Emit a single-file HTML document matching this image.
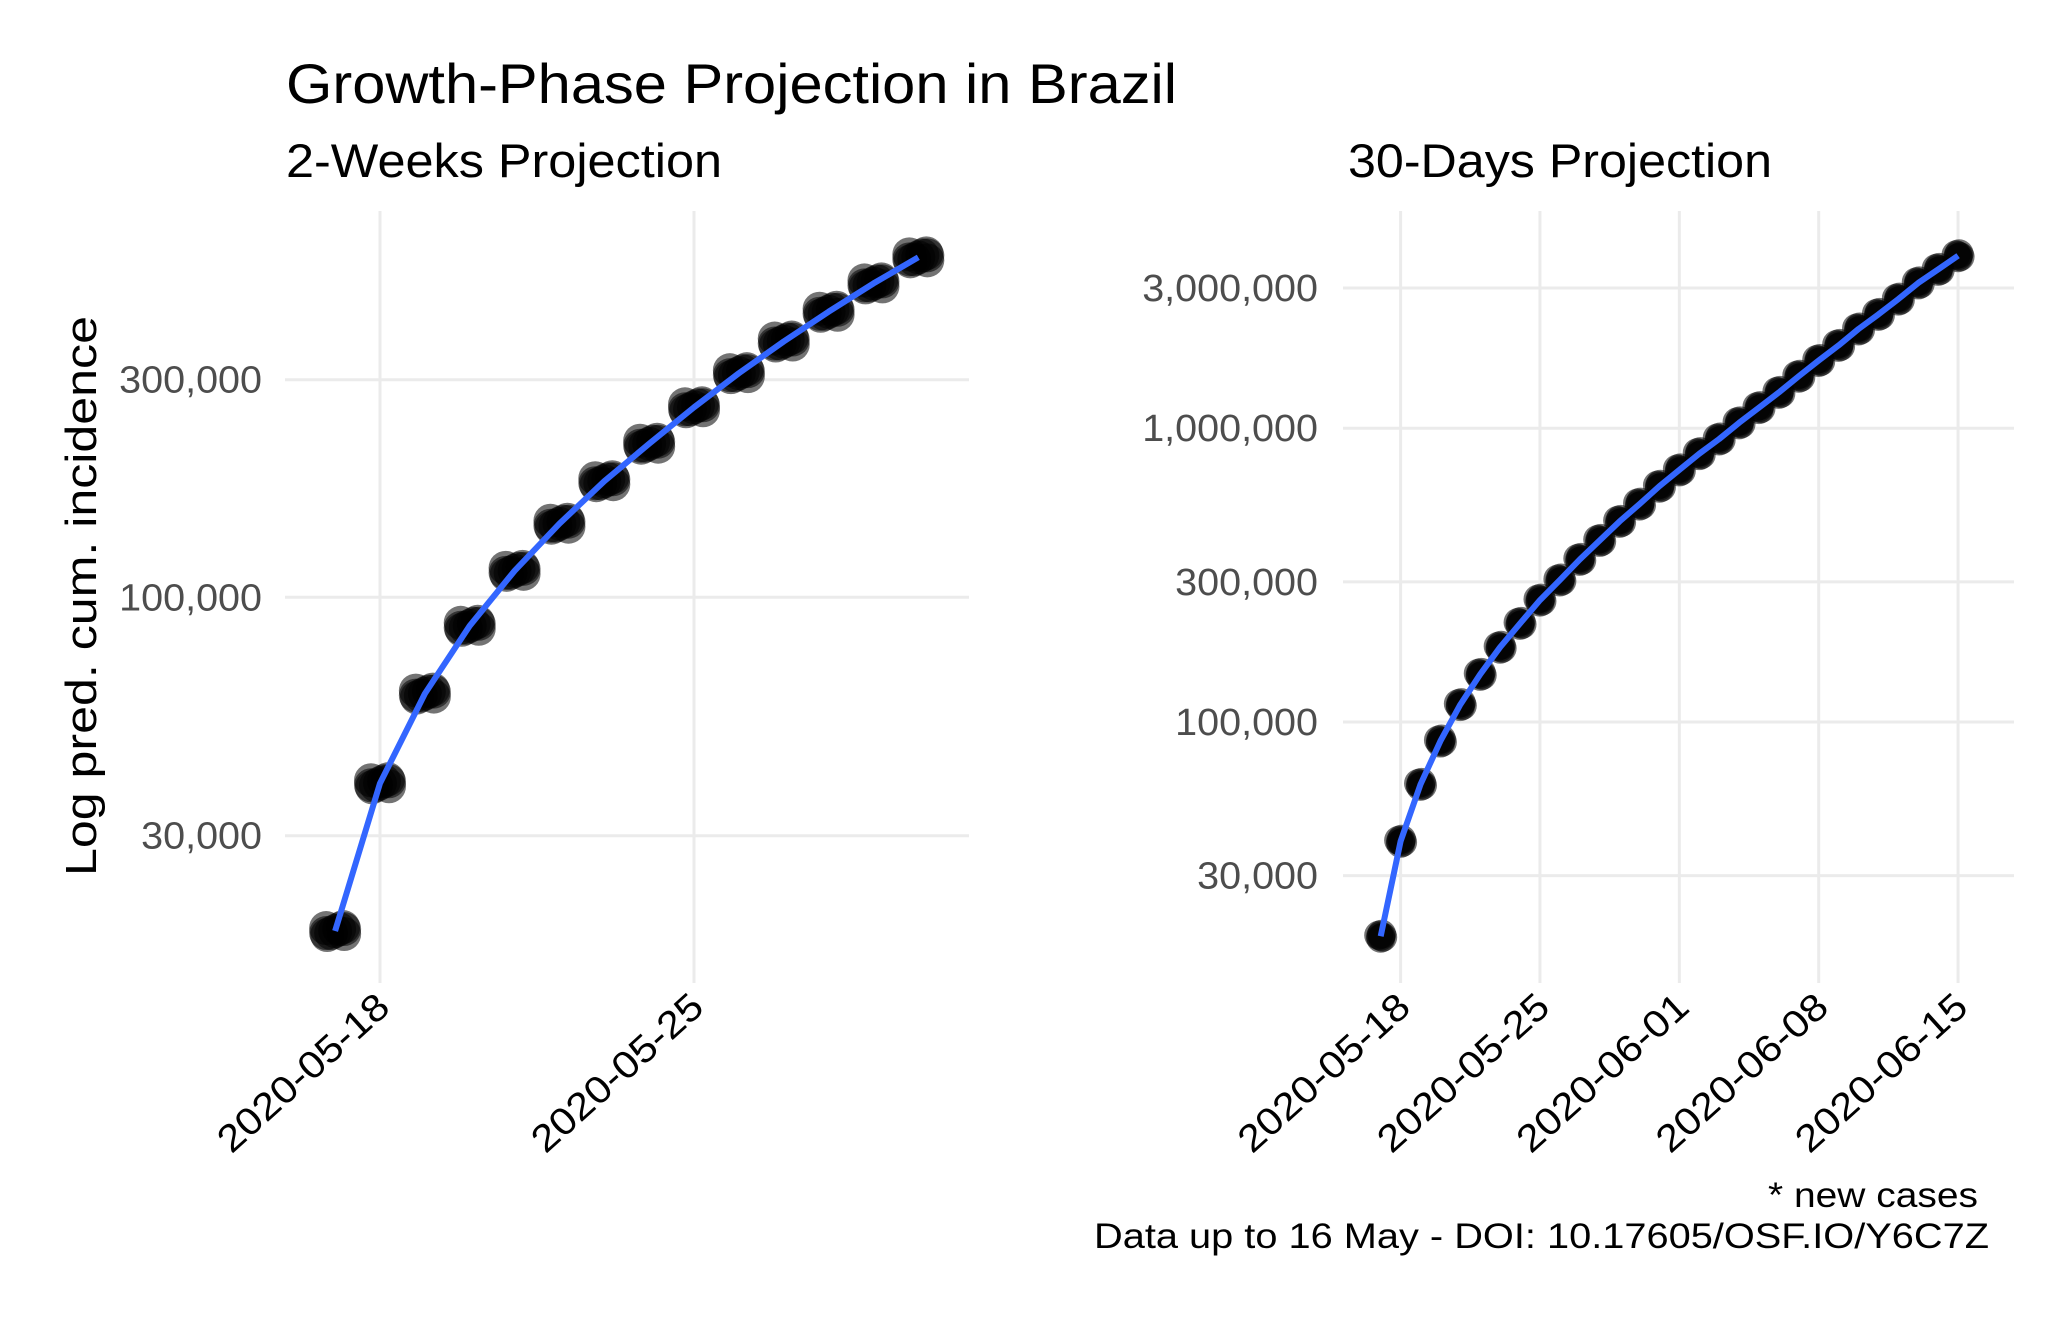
<!DOCTYPE html>
<html><head><meta charset="utf-8"><style>
html,body{margin:0;padding:0;background:#fff}
svg{display:block;font-family:"Liberation Sans",sans-serif}
</style></head><body>
<svg id="chart" width="2048" height="1318" viewBox="0 0 2048 1318" xmlns="http://www.w3.org/2000/svg">
<rect width="2048" height="1318" fill="#fff"/>
<text x="286" y="103" font-size="56" fill="#000" textLength="891" lengthAdjust="spacingAndGlyphs">Growth-Phase Projection in Brazil</text>
<text x="286" y="177" font-size="47" fill="#000" textLength="436" lengthAdjust="spacingAndGlyphs">2-Weeks Projection</text>
<text x="1348" y="177" font-size="47" fill="#000" textLength="424" lengthAdjust="spacingAndGlyphs">30-Days Projection</text>
<text transform="translate(96,596) rotate(-90)" text-anchor="middle" font-size="44" fill="#000" textLength="560" lengthAdjust="spacingAndGlyphs">Log pred. cum. incidence</text>
<text x="1978" y="1207" text-anchor="end" font-size="35" fill="#000" textLength="210" lengthAdjust="spacingAndGlyphs">* new cases</text>
<text x="1989" y="1248" text-anchor="end" font-size="35" fill="#000" textLength="895" lengthAdjust="spacingAndGlyphs">Data up to 16 May - DOI: 10.17605/OSF.IO/Y6C7Z</text>
<g id="left"></g>
<g id="right"></g>
</svg>
<script>
const leftValues=[18540,39100,61500,86600,114300,145000,179700,217200,261000,310100,363800,422900,487900,556600];
const leftYTicks=[30000,100000,300000];
const leftYTickLabels=["30,000","100,000","300,000"];
const leftXTicks=[0,7];
const leftXTickLabels=["2020-05-18","2020-05-25"];
const rightValues=[18660,39260,61330,86130,114600,145300,179700,216600,260000,304300,357700,415000,481700,551800,634700,721100,819000,918900,1043000,1175000,1324000,1503000,1700000,1914000,2176000,2440000,2750000,3122000,3472000,3864000];
const rightYTicks=[30000,100000,300000,1000000,3000000];
const rightYTickLabels=["30,000","100,000","300,000","1,000,000","3,000,000"];
const rightXTicks=[0,7,14,21,28];
const rightXTickLabels=["2020-05-18","2020-05-25","2020-06-01","2020-06-08","2020-06-15"];
const startDay=-1;
const NS="http://www.w3.org/2000/svg";
function mk(t,a,p){const e=document.createElementNS(NS,t);for(const k in a)e.setAttribute(k,a[k]);p.appendChild(e);return e;}
function panel(g,cfg){
  const xs=d=>cfg.x0+d*cfg.dx;
  const ys=v=>cfg.y100k-(Math.log10(v)-5)*cfg.dec;
  cfg.yTicks.forEach((v,i)=>{
    const l=mk('line',{x1:cfg.left,x2:cfg.right,y1:ys(v),y2:ys(v),stroke:'#ebebeb','stroke-width':3},g);
    
    
    const lab=cfg.yLabels[i];
    const t=mk('text',{x:cfg.labelX,y:ys(v)+13,'text-anchor':'end','font-size':38,fill:'#4d4d4d',textLength:(lab.length*0.556-((lab.match(/,/g)||[]).length)*0.278)*38*1.04,lengthAdjust:'spacingAndGlyphs'},g);
    t.textContent=lab;
    
    
  });
  cfg.xTicks.forEach((d,i)=>{
    const l=mk('line',{x1:xs(d),x2:xs(d),y1:cfg.top,y2:cfg.bottom,stroke:'#ebebeb','stroke-width':3},g);
    
    
    const t=mk('text',{transform:`translate(${xs(d)+12},${cfg.bottom+27}) rotate(-42)`,'text-anchor':'end','font-size':38,fill:'#000',textLength:216,lengthAdjust:'spacingAndGlyphs'},g);
    t.textContent=cfg.xLabels[i];
    
    
  });
  const pg=mk('g',{},g);
  
  
  cfg.values.forEach((v,i)=>{
    const cx=xs(startDay+i),cy=ys(v);
    cfg.jit.forEach(o=>{
      const c=mk('circle',{cx:cx+o[0],cy:cy+o[1],r:cfg.r,fill:'#000','fill-opacity':0.55},pg);
      
      
    });
  });
  const pts=cfg.values.map((v,i)=>xs(startDay+i).toFixed(1)+','+ys(v).toFixed(1)).join(' ');
  const pl=mk('polyline',{points:pts,fill:'none',stroke:'#3366FF','stroke-width':6,'stroke-linejoin':'round'},g);
  
  
}
panel(document.getElementById('left'),{x0:380,dx:44.86,y100k:597.3,dec:456,left:285,right:969,top:211,bottom:983,labelX:262,
  values:leftValues,yTicks:leftYTicks,yLabels:leftYTickLabels,xTicks:leftXTicks,xLabels:leftXTickLabels,r:17,
  jit:[[-9,-3],[9,3],[-8,4],[8,-4],[0,0],[-4,2],[4,-2],[-9,2],[9,-2]]});
panel(document.getElementById('right'),{x0:1400.6,dx:19.91,y100k:722,dec:293.8,left:1343,right:2014,top:211,bottom:983,labelX:1318,
  values:rightValues,yTicks:rightYTicks,yLabels:rightYTickLabels,xTicks:rightXTicks,xLabels:rightXTickLabels,r:14.5,
  jit:[[-2,-1],[2,1],[0,2],[1,-2],[0,0]]});
</script>
</body></html>
